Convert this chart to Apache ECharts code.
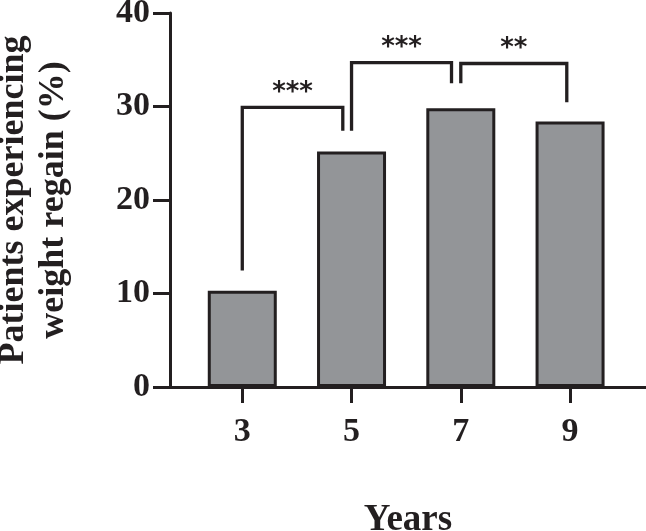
<!DOCTYPE html>
<html>
<head>
<meta charset="utf-8">
<script src="https://cdn.jsdelivr.net/npm/echarts@6/dist/echarts.min.js"></script>
<style>
  html, body { margin: 0; padding: 0; background: #fff; }
  #chart { width: 646px; height: 531px; }
</style>
</head>
<body>
<div id="chart"></div>
<script>
// years on the x axis and the bar heights (%)
const years = [3, 5, 7, 9]
const regain = [10.3, 25.2, 29.8, 28.4]

// significance brackets: left leg x, right leg x, left leg bottom, top, right leg bottom
const bracketFrom = [3, 5, 7]
const bracketTo = [4.84, 6.83, 8.94]
const bracketLeftLow = [12.45, 27.4, 32.5]
const bracketTop = [29.9, 34.7, 34.6]
const bracketRightLow = [27.4, 32.5, 30.45]
const stars = ['***', '***', '**']

const yTicks = [0, 10, 20, 30, 40]

const ink = '#231f20'
const serif = '"Liberation Serif", "Times New Roman", serif'

const chart = echarts.init(document.getElementById('chart'))

const barData = years.map((y, i) => [y, regain[i]])
const bracketData = bracketFrom.map((x, i) => [x, bracketTo[i], bracketLeftLow[i], bracketTop[i], bracketRightLow[i]])

const options = {
    animation: false,
    grid: { left: 170, right: 0, top: 13, bottom: 144, outerBoundsMode: 'none', containLabel: false },
    xAxis: {
        type: 'value',
        min: 1.677,
        max: 10.39,
        name: 'Years',
        nameLocation: 'middle',
        nameGap: 115,
        nameTextStyle: { fontFamily: serif, fontWeight: 'bold', fontSize: 37, color: ink },
        splitLine: { show: false },
        axisLine: { show: true, onZero: false, lineStyle: { color: ink, width: 3 } },
        axisTick: { show: true, length: 16, customValues: years, lineStyle: { color: ink, width: 3 } },
        axisLabel: {
            customValues: years,
            margin: 28,
            fontFamily: serif, fontWeight: 'bold', fontSize: 34, color: ink
        }
    },
    yAxis: {
        type: 'value',
        min: yTicks[0],
        max: yTicks[yTicks.length - 1],
        interval: 10,
        name: 'Patients experiencing\nweight regain (%)',
        nameLocation: 'middle',
        nameRotate: 90,
        nameGap: 96,
        nameTextStyle: { fontFamily: serif, fontWeight: 'bold', fontSize: 36, lineHeight: 40, color: ink },
        splitLine: { show: false },
        axisLine: { show: true, lineStyle: { color: ink, width: 3 } },
        axisTick: { show: true, length: 17, lineStyle: { color: ink, width: 3 } },
        axisLabel: { margin: 20, fontFamily: serif, fontWeight: 'bold', fontSize: 34, color: ink }
    },
    series: [
        {
            type: 'bar',
            data: barData,
            barWidth: 69,
            itemStyle: { color: '#939598', borderColor: ink, borderWidth: 3 }
        },
        {
            type: 'custom',
            data: bracketData,
            z: 5,
            renderItem: function (params, api) {
                const a = api.coord([api.value(0), api.value(2)])
                const b = api.coord([api.value(0), api.value(3)])
                const c = api.coord([api.value(1), api.value(3)])
                const d = api.coord([api.value(1), api.value(4)])
                return {
                    type: 'group',
                    children: [
                        {
                            type: 'polyline',
                            shape: { points: [a, b, c, d] },
                            style: { stroke: ink, lineWidth: 3.3, fill: null, lineJoin: 'miter' }
                        },
                        {
                            type: 'text',
                            x: (b[0] + c[0]) / 2,
                            y: b[1] - 14,
                            style: {
                                text: stars[params.dataIndex],
                                fontFamily: '"DejaVu Sans", sans-serif',
                                fontWeight: 'bold',
                                fontSize: 26,
                                fill: ink,
                                align: 'center',
                                verticalAlign: 'middle'
                            }
                        }
                    ]
                }
            }
        }
    ]
}
chart.setOption(options)
</script>
</body>
</html>
